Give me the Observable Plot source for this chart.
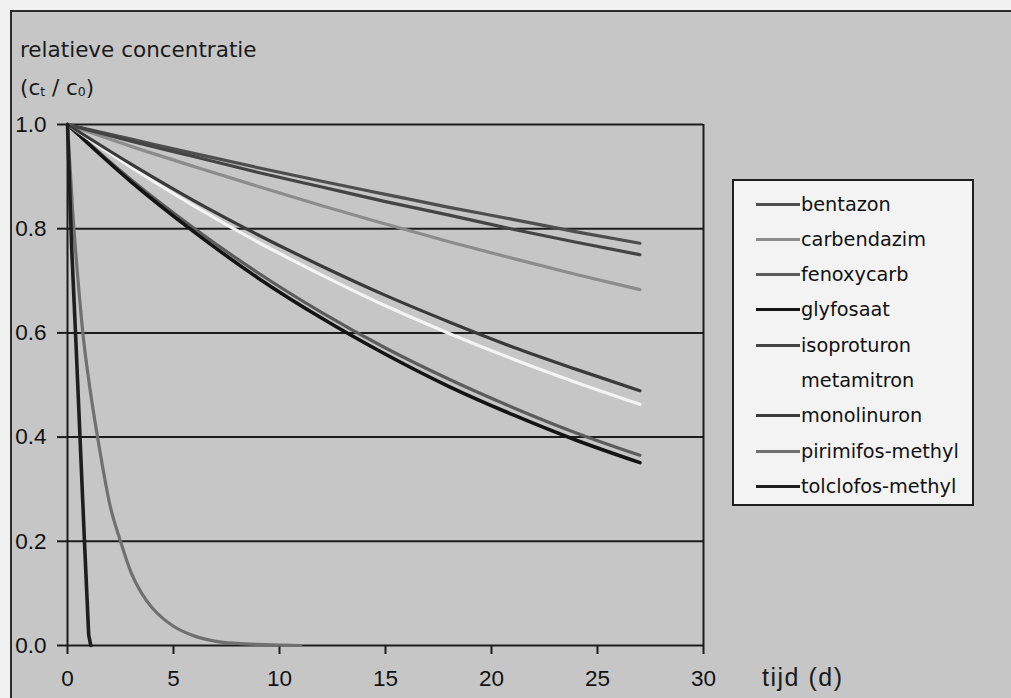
<!DOCTYPE html>
<html>
<head>
<meta charset="utf-8">
<script src="https://cdn.jsdelivr.net/npm/d3@7"></script>
<script src="https://cdn.jsdelivr.net/npm/@observablehq/plot@0.6"></script>
<style>
  html, body { margin: 0; padding: 0; background: #f1f1f1; width: 1011px; height: 698px; overflow: hidden; }
  #panel { position: absolute; left: 10px; top: 10px; width: 1010px; height: 700px; background: #c6c6c6;
           border-top: 2px solid #2a2a2a; border-left: 2px solid #2a2a2a; }
  #chart { position: absolute; left: 0; top: 0; }
  .ytitle { position: absolute; left: 20px; font-family: "DejaVu Sans", sans-serif; font-size: 21.5px; color: #1a1a1a; }
  .ytitle sub { font-size: 12.5px; vertical-align: -1px; }
  #xlabel { position: absolute; left: 762px; top: 663px; font-family: "Liberation Sans", Arial, sans-serif; font-size: 25px; color: #1a1a1a; letter-spacing: 1.5px; }
  #legend { position: absolute; left: 732px; top: 179px; width: 238px; height: 323px; background: #f3f3f3;
            border: 2px solid #1e1e1e; font-family: "DejaVu Sans", sans-serif; font-size: 19.3px; color: #111; }
  .item { position: absolute; left: 0; height: 24px; display: flex; align-items: center; }
  .swatch { width: 44px; margin-left: 22px; }
  .lbl { margin-left: 1px; }
</style>
</head>
<body>
<div id="panel"></div>
<div id="chart"></div>
<div class="ytitle" style="top:37px">relatieve concentratie</div>
<div class="ytitle" style="top:75px">(c<sub>t</sub> / c<sub>0</sub>)</div>
<div id="xlabel">tijd (d)</div>
<div id="legend"></div>
<script>
// ---- data ----
const names = ["bentazon","carbendazim","fenoxycarb","glyfosaat","isoproturon","metamitron","monolinuron","pirimifos-methyl","tolclofos-methyl"];
const colors = ["#4e4e4e","#8c8c8c","#5c5c5c","#141414","#444444","#f4f4f4","#3a3a3a","#707070","#1e1e1e"];
const widths = [3.2, 3.2, 3.2, 3.6, 3.2, 3.2, 3.2, 3.2, 3.6];

const slowDays = [0, 3, 6, 9, 12, 15, 18, 21, 24, 27];
const bentazon     = [1, 0.972, 0.944, 0.917, 0.891, 0.866, 0.841, 0.818, 0.794, 0.772];
const isoproturon  = [1, 0.968, 0.938, 0.908, 0.880, 0.852, 0.826, 0.799, 0.774, 0.750];
const carbendazim  = [1, 0.958, 0.919, 0.881, 0.844, 0.809, 0.775, 0.743, 0.712, 0.683];
const monolinuron  = [1, 0.924, 0.853, 0.788, 0.728, 0.672, 0.621, 0.573, 0.530, 0.489];
const metamitron   = [1, 0.918, 0.843, 0.774, 0.711, 0.652, 0.599, 0.550, 0.505, 0.463];
const fenoxycarb   = [1, 0.894, 0.800, 0.715, 0.639, 0.571, 0.511, 0.457, 0.408, 0.365];
const glyfosaat    = [1, 0.890, 0.793, 0.705, 0.628, 0.559, 0.497, 0.443, 0.394, 0.351];

const pirimDays = [0, 0.25, 0.5, 0.75, 1, 1.5, 2, 2.5, 3, 3.5, 4, 4.5, 5, 6, 7, 8, 9, 10, 11];
const pirimifos = [1, 0.83, 0.70, 0.59, 0.51, 0.38, 0.27, 0.20, 0.14, 0.10, 0.072, 0.052, 0.037, 0.018, 0.008, 0.004, 0.002, 0.001, 0];

const tolcDays = [0, 0.2, 0.4, 0.6, 0.8, 1.0, 1.1];
const tolclofos = [1, 0.76, 0.58, 0.39, 0.2, 0.02, 0];

const xTicks = [0, 5, 10, 15, 20, 25, 30];
const yTicks = [0, 0.2, 0.4, 0.6, 0.8, 1.0];

// ---- build table ----
const rows = [];
const addSeries = (name, xs, ys) => xs.forEach((x, i) => rows.push({name, t: x, c: ys[i]}));
addSeries("bentazon", slowDays, bentazon);
addSeries("isoproturon", slowDays, isoproturon);
addSeries("carbendazim", slowDays, carbendazim);
addSeries("monolinuron", slowDays, monolinuron);
addSeries("metamitron", slowDays, metamitron);
addSeries("fenoxycarb", slowDays, fenoxycarb);
addSeries("glyfosaat", slowDays, glyfosaat);
addSeries("pirimifos-methyl", pirimDays, pirimifos);
addSeries("tolclofos-methyl", tolcDays, tolclofos);

const frameColor = "#1c1c1c";
const plot = Plot.plot({
  width: 1011,
  height: 698,
  marginLeft: 67,
  marginRight: 308,
  marginTop: 124,
  marginBottom: 53,
  style: {background: "transparent", fontFamily: "'Liberation Sans', Arial, sans-serif", color: "#111"},
  x: {domain: d3.extent(xTicks)},
  y: {domain: d3.extent(yTicks)},
  color: {type: "ordinal", domain: names, range: colors},
  marks: [
    Plot.gridY(yTicks, {stroke: frameColor, strokeOpacity: 1, strokeWidth: 2}),
    Plot.ruleX(d3.extent(xTicks), {stroke: frameColor, strokeWidth: 2}),
    Plot.axisY({ticks: yTicks, tickSize: 10, tickPadding: 11, tickFormat: d3.format(".1f"),
                fontSize: 22.5, stroke: frameColor, strokeWidth: 2, label: null}),
    Plot.axisX({ticks: xTicks, tickSize: 9, tickPadding: 16, fontSize: 22.5,
                stroke: frameColor, strokeWidth: 2, label: null}),
    ...names.map((n, i) => Plot.line(rows.filter(r => r.name === n), {
      x: "t", y: "c", stroke: "name",
      strokeWidth: widths[i],
      curve: n === "tolclofos-methyl" ? "linear" : "monotone-x"
    }))
  ]
});
document.getElementById("chart").appendChild(plot);

// ---- legend ----
const legend = document.getElementById("legend");
names.forEach((n, i) => {
  const it = document.createElement("div");
  it.className = "item";
  it.style.top = (11 + i * 35.3) + "px";
  const sw = document.createElement("div");
  sw.className = "swatch";
  sw.style.borderTop = (widths[i] + 0.3) + "px solid " + colors[i];
  const lb = document.createElement("span");
  lb.className = "lbl";
  lb.textContent = n;
  it.appendChild(sw); it.appendChild(lb);
  legend.appendChild(it);
});
</script>
</body>
</html>
